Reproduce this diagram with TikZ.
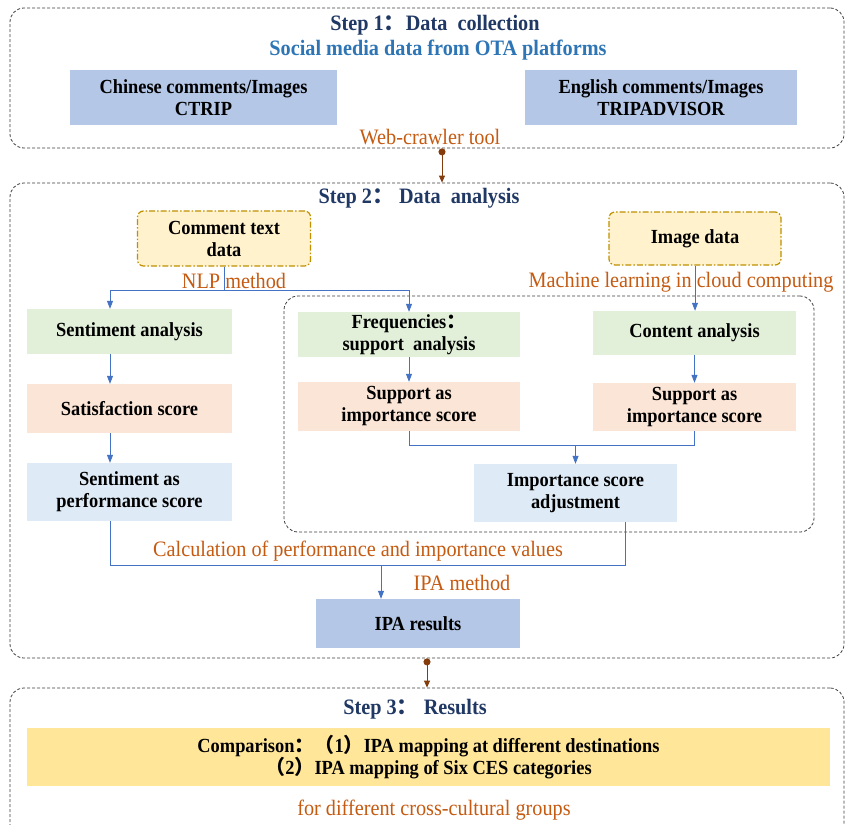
\documentclass[tikz,border=0pt]{standalone}
\usepackage{fontspec}
\setmainfont{Liberation Serif}[FakeStretch=0.92]
\newfontfamily\cjk{Noto Sans CJK SC}
\usetikzlibrary{arrows.meta}
\definecolor{titleblue}{HTML}{203864}
\definecolor{subblue}{HTML}{2E75B6}
\definecolor{orangeT}{HTML}{C55A11}
\definecolor{boxblue}{HTML}{B4C7E7}
\definecolor{boxgreen}{HTML}{E2F0D9}
\definecolor{boxpeach}{HTML}{FBE5D6}
\definecolor{boxlight}{HTML}{DEEBF7}
\definecolor{boxcream}{HTML}{FFF2CC}
\definecolor{gold}{HTML}{BF9000}
\definecolor{boxyellow}{HTML}{FFE699}
\definecolor{lineblue}{HTML}{4472C4}
\definecolor{brownL}{HTML}{843C0C}
\newcommand{\fc}{{\cjk ：}}
\begin{document}
\begin{tikzpicture}[x=1pt,y=-1pt,
  stepframe/.style={draw=black!75, line width=0.8pt, dash pattern=on 3pt off 2pt, rounded corners=14pt, inner sep=0pt},
  boxbase/.style={inner sep=0pt, align=center, font=\fontsize{20}{22}\selectfont\bfseries},
  bluebox/.style={boxbase, fill=boxblue},
  greenbox/.style={boxbase, fill=boxgreen},
  peachbox/.style={boxbase, fill=boxpeach},
  lightbox/.style={boxbase, fill=boxlight},
  srcbox/.style={boxbase, fill=boxcream, draw=gold, line width=1.2pt, rounded corners=6pt, dash pattern=on 6pt off 2pt on 1.5pt off 2pt},
  ttl/.style={text=titleblue, font=\fontsize{22}{26}\selectfont\bfseries, inner sep=0pt},
  olbl/.style={text=orangeT, font=\fontsize{22}{26}\selectfont, inner sep=0pt},
  line/.style={draw=lineblue, line width=0.8pt},
  conn/.style={line, -{Triangle[length=8pt,width=6pt]}},
  brownarr/.style={draw=brownL, line width=0.8pt, {Circle[length=7pt]}-{Triangle[length=7pt,width=6pt]}}
]
\useasboundingbox (0,0) rectangle (845,824);
\clip (0,0) rectangle (845,824);
\fill[white] (0,0) rectangle (845,824);

% frames
\node[stepframe, minimum width=834pt, minimum height=140pt] (s1) at (427,78) {};
\node[stepframe, minimum width=834pt, minimum height=475pt] (s2) at (427,420.5) {};
\node[stepframe, minimum width=834pt, minimum height=160pt] (s3) at (427,768) {};
\node[stepframe, minimum width=530pt, minimum height=236pt] (inner) at (549,414) {};

% step 1
\node[ttl] (t1) at (435,25) {Step 1\fc Data\ \ collection};
\node[text=subblue, font=\fontsize{22}{26}\selectfont\bfseries, inner sep=0pt] (t1b) at (438,50) {Social media data from OTA platforms};
\node[bluebox, minimum width=267pt, minimum height=55pt] (chinese) at (203.5,97.5) {Chinese comments/Images\\CTRIP};
\node[bluebox, minimum width=272pt, minimum height=55pt] (english) at (661,97.5) {English comments/Images\\TRIPADVISOR};
\node[olbl] (web) at (430,137) {Web-crawler tool};

% step 2
\node[ttl] (t2) at (419,198) {Step 2\fc\ Data\ \ analysis};
\node[srcbox, minimum width=173pt, minimum height=55pt] (comment) at (224,238.5) {Comment text\\data};
\node[srcbox, minimum width=172pt, minimum height=53pt] (image) at (695,238.5) {Image data};
\node[olbl] (nlp) at (234,281) {NLP method};
\node[olbl] (ml) at (681,282) {Machine learning in cloud computing};

\node[greenbox, minimum width=205pt, minimum height=45pt] (sentiment) at (129.5,331.5) {Sentiment analysis};
\node[greenbox, minimum width=222pt, minimum height=45pt] (freq) at (409,334.5) {Frequencies\fc\\support\ \ analysis};
\node[greenbox, minimum width=203pt, minimum height=44pt] (content) at (694.5,333) {Content analysis};

\node[peachbox, minimum width=205pt, minimum height=49pt] (satisf) at (129.5,408.5) {Satisfaction score};
\node[peachbox, minimum width=222pt, minimum height=49pt] (support1) at (409,406.5) {Support as\\importance score};
\node[peachbox, minimum width=203pt, minimum height=48pt] (support2) at (694.5,407) {Support as\\importance score};

\node[lightbox, minimum width=205pt, minimum height=58pt] (perf) at (129.5,492) {Sentiment as\\performance score};
\node[lightbox, minimum width=203pt, minimum height=58pt] (adjust) at (575.5,493) {Importance score\\adjustment};

\node[olbl] (calcl) at (358,551) {Calculation of performance and importance values};
\node[olbl] (ipam) at (462,583) {IPA method};
\node[bluebox, minimum width=204pt, minimum height=49pt] (ipa) at (418,623.5) {IPA results};

% step 3
\node[ttl] (t3) at (415,709) {Step 3\fc\ Results};
\node[boxbase, fill=boxyellow, minimum width=803pt, minimum height=58pt] (comp) at (428.5,757) {Comparison\fc{\cjk （}1{\cjk ）}IPA mapping at different destinations\\{\cjk （}2{\cjk ）}IPA mapping of Six CES categories};
\node[olbl] (groups) at (434,810) {for different cross-cultural groups};

% connectors
\coordinate (nlpsplit) at (224,290);
\draw[line] (comment.south) -- (nlpsplit);
\draw[conn] (nlpsplit) -| ([xshift=-19.5pt]sentiment.north);
\draw[conn] (nlpsplit) -| (freq.north);
\draw[conn] (image.south) -- (image.south |- content.north);

\draw[conn] ([xshift=-19.5pt]sentiment.south) -- ([xshift=-19.5pt]satisf.north);
\draw[conn] ([xshift=-19.5pt]satisf.south) -- ([xshift=-19.5pt]perf.north);
\draw[conn] (freq.south) -- (support1.north);
\draw[conn] (content.south) -- (content.south |- support2.north);

\coordinate (merge) at (575.5,445);
\draw[line] (support1.south) |- (merge);
\draw[line] (support2.south) |- (merge);
\draw[conn] (merge) -- (adjust.north);

\coordinate (calc) at (381,565);
\draw[line] ([xshift=-19.5pt]perf.south) |- (calc);
\draw[line] ([xshift=49.5pt]adjust.south) |- (calc);
\draw[conn] (calc) -- ([xshift=-37pt]ipa.north);

\draw[brownarr] ([xshift=15pt]s1.south) -- ([xshift=15pt]s2.north);
\draw[brownarr] (s2.south) -- (s3.north);
\end{tikzpicture}
\end{document}
